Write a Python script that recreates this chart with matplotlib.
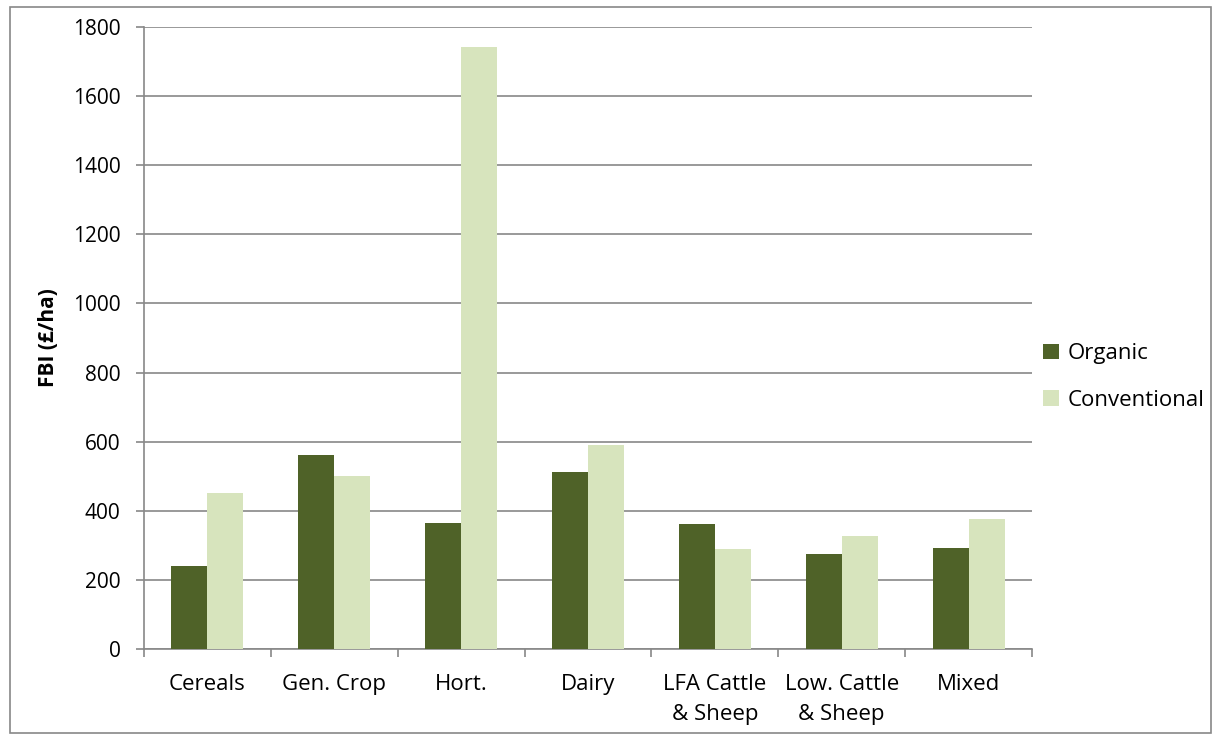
import numpy as np
import matplotlib
matplotlib.use('Agg')
import matplotlib.pyplot as plt
from matplotlib.patches import Rectangle

categories = ['Cereals', 'Gen. Crop', 'Hort.', 'Dairy', 'LFA Cattle\n& Sheep', 'Low. Cattle\n& Sheep', 'Mixed']
organic = [241, 561, 363, 511, 362, 275, 291]
conventional = [451, 499, 1744, 589, 288, 326, 375]
series_names = ['Organic', 'Conventional']
yticks = [0, 200, 400, 600, 800, 1000, 1200, 1400, 1600, 1800]

c_org = '#4F6228'
c_conv = '#D7E4BD'
grid_c = '#888888'

plt.rcParams['font.family'] = ['Open Sans', 'DejaVu Sans']

fig = plt.figure(figsize=(12.14, 7.36), dpi=100)
ax = fig.add_axes([144 / 1214, 1 - 648.7 / 736, (1032 - 144) / 1214, (648.7 - 27.3) / 736])

x = np.arange(len(categories))
w = 0.284
ax.bar(x - w / 2, organic, width=w, color=c_org, label=series_names[0], zorder=3)
ax.bar(x + w / 2, conventional, width=w, color=c_conv, label=series_names[1], zorder=3)

ax.set_xlim(-0.5, len(categories) - 0.5)
ax.set_ylim(0, 1800)
ax.set_yticks(yticks)
ax.set_yticklabels([str(v) for v in yticks], fontsize=15)
ax.yaxis.grid(True, color=grid_c, linewidth=1.2, zorder=0)

# category labels in the middle, tick marks on the boundaries
ax.set_xticks(x)
ax.set_xticklabels(categories, fontsize=16, linespacing=1.6)
ax.set_xticks(np.arange(-0.5, len(categories), 1), minor=True)
ax.tick_params(axis='x', which='major', length=0, pad=18)
ax.tick_params(axis='x', which='minor', length=6, width=1.2, color=grid_c, direction='out')
ax.tick_params(axis='y', length=6, width=1.2, color=grid_c, direction='out', pad=11)

for s in ['top', 'right']:
    ax.spines[s].set_visible(False)
for s in ['left', 'bottom']:
    ax.spines[s].set_color(grid_c)
    ax.spines[s].set_linewidth(1.2)

ax.set_ylabel('FBI (£/ha)', fontsize=15, fontweight='bold', labelpad=10)

ax.legend(loc='center left', bbox_to_anchor=(1.0, 0.437), frameon=False, fontsize=16,
          handlelength=0.7, handleheight=0.7, handletextpad=0.4, labelspacing=1.15,
          borderaxespad=0.1)

# outer chart border
fig.patches.append(Rectangle((10 / 1214, 3 / 736), 1201 / 1214, 726 / 736, transform=fig.transFigure,
                             fill=False, edgecolor='#888888', linewidth=1.2))

fig.savefig('out.png', dpi=100)
